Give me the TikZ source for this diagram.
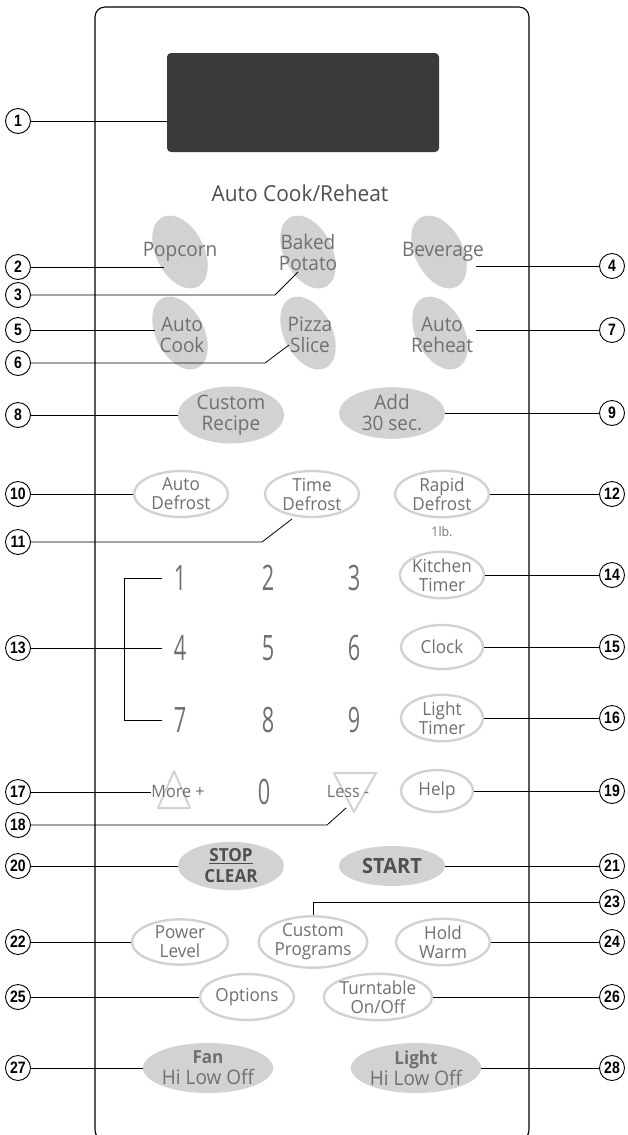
\documentclass[tikz,border=0pt]{standalone}
\usepackage{fontspec}
\setmainfont{Open Sans}[FakeStretch=0.95]
\newfontfamily\tagfont{Liberation Sans}[FakeStretch=0.85]
\newfontfamily\digitfont{Open Sans}[FakeStretch=0.62]
\usetikzlibrary{shapes.geometric, positioning, calc}
\definecolor{keygray}{HTML}{D2D2D2}
\definecolor{labelgray}{HTML}{707070}
\definecolor{screengray}{HTML}{3A3A3A}
\definecolor{darkkey}{HTML}{4F4F4F}

\begin{document}
\begin{tikzpicture}[x=1pt, y=-1pt,
  numtag/.style={circle, draw, line width=0.9pt, inner sep=0pt, minimum size=25pt, font=\tagfont\bfseries\fontsize{16.5}{16.5}\selectfont},
  softkey/.style={ellipse, fill=keygray, inner sep=0pt, minimum width=106pt, minimum height=40pt, align=center, text=labelgray, font=\fontsize{20}{21}\selectfont},
  ringkey/.style={ellipse, draw=keygray, line width=2.4pt, fill=white, inner sep=0pt, minimum width=94pt, minimum height=46pt, align=center, text=labelgray, font=\fontsize{18}{19}\selectfont},
  keytext/.style={align=center, inner sep=0pt, text=labelgray, font=\fontsize{20}{21}\selectfont},
  digit/.style={inner sep=0pt, minimum width=36pt, text=labelgray, font=\digitfont\fontsize{35}{35}\selectfont},
  leader/.style={line width=0.8pt}]

\useasboundingbox (0,0) rectangle (627,1135);

% Panel and display

\draw[line width=1.1pt, rounded corners=10pt] (95,7) rectangle (529,1140);
\node[fill=screengray, rounded corners=4pt, minimum width=272pt, minimum height=99pt, inner sep=0pt] (display) at (303,102.5) {};
\node[text=darkkey, font=\fontsize{22}{22}\selectfont] (autotitle) at (300,193) {Auto Cook/Reheat};

% Tilted keys

\fill[keygray, rotate around={27:(180,252)}] (180,252) ellipse (24 and 39);
\fill[keygray, rotate around={27:(308,252)}] (308,252) ellipse (24 and 39);
\fill[keygray, rotate around={27:(439,252)}] (439,252) ellipse (24 and 39);
\fill[keygray, rotate around={27:(180,333)}] (180,333) ellipse (24 and 39);
\fill[keygray, rotate around={27:(308,333)}] (308,333) ellipse (24 and 39);
\fill[keygray, rotate around={27:(440,333)}] (440,333) ellipse (24 and 39);

\node[keytext] (popcorn) at (180,252) {Popcorn};
\node[keytext] (potato) at (308,252) {Baked\\Potato};
\node[keytext] (beverage) at (443,252) {Beverage};
\node[keytext] (autocook) at (182,335) {Auto\\Cook};
\node[keytext] (pizza) at (310,335) {Pizza\\Slice};
\node[keytext] (autoreheat) at (442,335) {Auto\\Reheat};

% Keys

\node[softkey] (recipe) at (231,415) {Custom\\Recipe};
\node[softkey] (addsec) at (392,413) {Add\\30 sec.};

\node[ringkey] (autodefrost) at (181,494) {Auto\\Defrost};
\node[ringkey] (timedefrost) at (312,494) {Time\\Defrost};
\node[ringkey] (rapiddefrost) at (442,494) {Rapid\\Defrost};
\node[keytext, font=\fontsize{13}{13}\selectfont, below=8pt of rapiddefrost.south] (onelb) {1lb.};

\node[ringkey, minimum width=82pt, minimum height=44pt] (kitchen) at (442,575) {Kitchen\\Timer};
\node[ringkey, minimum width=82pt, minimum height=44pt] (clock) at (442,647) {Clock};
\node[ringkey, minimum width=82pt, minimum height=44pt] (lighttimer) at (442,718) {Light\\Timer};
\node[ringkey, minimum width=72pt, minimum height=42pt] (help) at (437,791) {Help};

\foreach \d/\x/\y in {1/180/578, 2/268/578, 3/354/578, 4/180/648, 5/268/648, 6/354/648, 7/180/720, 8/268/720, 9/354/720, 0/264/792}
  \node[digit] (d\d) at (\x,\y) {\d};

\draw[keygray, line width=2pt, line join=round] (174,771) -- (190,808) -- (158,808) -- cycle;
\draw[keygray, line width=2pt, line join=round] (334,773) -- (376,773) -- (354,812) -- cycle;
\node[keytext, font=\fontsize{17}{17}\selectfont] (more) at (178,792) {More +};
\node[keytext, font=\fontsize{17}{17}\selectfont] (less) at (348,792) {Less -};

\node[softkey, text=darkkey, font=\bfseries\fontsize{18}{21}\selectfont] (stop) at (231,866) {\underline{STOP}\\CLEAR};
\node[softkey, text=darkkey, font=\bfseries\fontsize{21}{21}\selectfont] (start) at (392,866) {START};

\node[ringkey, minimum width=96pt, minimum height=44pt] (power) at (180,942) {Power\\Level};
\node[ringkey, minimum width=99pt, minimum height=47pt] (programs) at (313,942) {Custom\\Programs};
\node[ringkey, minimum width=94pt, minimum height=44pt] (hold) at (443,942) {Hold\\Warm};
\node[ringkey] (options) at (247,997) {Options};
\node[ringkey, minimum width=96pt] (turntable) at (378,997) {Turntable\\On/Off};

\node[softkey, minimum width=120pt, minimum height=50pt] (fan) at (208,1068) {{\bfseries\fontsize{18}{18}\selectfont Fan}\\Hi Low Off};
\node[softkey, minimum width=120pt, minimum height=50pt] (light) at (416,1068) {{\bfseries\fontsize{18}{18}\selectfont Light}\\Hi Low Off};

% Callouts

\node[numtag] (t1) at (18,121) {1};
\node[numtag] (t2) at (18,267) {2};
\node[numtag] (t3) at (18,295) {3};
\node[numtag] (t4) at (612,266) {4};
\node[numtag] (t5) at (18,330) {5};
\node[numtag] (t6) at (18,363) {6};
\node[numtag] (t7) at (612,330) {7};
\node[numtag] (t8) at (18,415) {8};
\node[numtag] (t9) at (612,413) {9};
\node[numtag] (t10) at (18,494) {10};
\node[numtag] (t11) at (18,542) {11};
\node[numtag] (t12) at (612,494) {12};
\node[numtag] (t13) at (18,648) {13};
\node[numtag] (t14) at (612,575) {14};
\node[numtag] (t15) at (612,647) {15};
\node[numtag] (t16) at (612,718) {16};
\node[numtag] (t17) at (18,792) {17};
\node[numtag] (t18) at (18,825) {18};
\node[numtag] (t19) at (612,791) {19};
\node[numtag] (t20) at (18,866) {20};
\node[numtag] (t21) at (612,866) {21};
\node[numtag] (t22) at (18,942) {22};
\node[numtag] (t23) at (612,902) {23};
\node[numtag] (t24) at (612,942) {24};
\node[numtag] (t25) at (18,997) {25};
\node[numtag] (t26) at (612,997) {26};
\node[numtag] (t27) at (18,1068) {27};
\node[numtag] (t28) at (612,1068) {28};

\coordinate (p2) at (164,267);
\coordinate (p3) at (298,272);
\coordinate (p4) at (476,266);
\coordinate (p5) at (155,330);
\coordinate (p6) at (289,345);
\coordinate (p7) at (476,330);
\coordinate (p11) at (292,519);
\coordinate (p18) at (346,808);

% Leaders

\draw[leader] (t1) -- (t1 -| display.west);
\draw[leader] (t2) -- (p2);
\draw[leader] (t3) -- ++(257,0) -- (p3);
\draw[leader] (t4) -- (p4);
\draw[leader] (t5) -- (p5);
\draw[leader] (t6) -- ++(247,0) -- (p6);
\draw[leader] (t7) -- (p7);
\draw[leader] (t8) -- (recipe.west);
\draw[leader] (t9) -- (addsec.east);
\draw[leader] (t10) -- (autodefrost.west);
\draw[leader] (t11) -- ++(244,0) -- (p11);
\draw[leader] (t12) -- (rapiddefrost.east);
\draw[leader] (t13) -- (d4.west);
\draw[leader] (d1.west) -- ++(-37,0) |- (d7.west);
\draw[leader] (t14) -- (kitchen.east);
\draw[leader] (t15) -- (clock.east);
\draw[leader] (t16) -- (lighttimer.east);
\draw[leader] (t17) -- (more.west);
\draw[leader] (t18) -- ++(309,0) -- (p18);
\draw[leader] (t19) -- (help.east);
\draw[leader] (t20) -- (stop.west);
\draw[leader] (t21) -- (start.east);
\draw[leader] (t22) -- (power.west);
\draw[leader] (t23) -| (programs.north);
\draw[leader] (t24) -- (hold.east);
\draw[leader] (t25) -- (options.west);
\draw[leader] (t26) -- (turntable.east);
\draw[leader] (t27) -- (fan.west);
\draw[leader] (t28) -- (light.east);

\end{tikzpicture}
\end{document}
